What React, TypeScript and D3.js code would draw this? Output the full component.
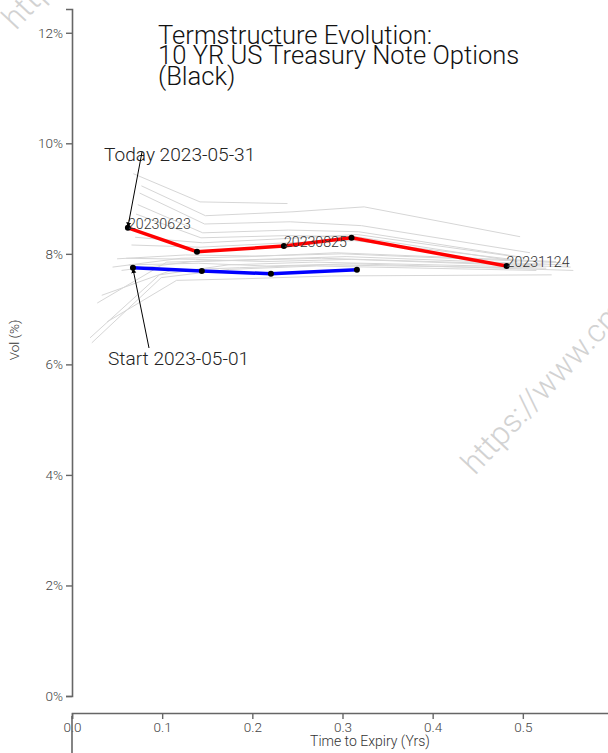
import React, { useEffect, useRef } from "react";
import * as d3 from "d3";

const X_TICKS = [0, 0.1, 0.2, 0.3, 0.4, 0.5];
const Y_TICKS = [0, 2, 4, 6, 8, 10, 12];

const TITLE_LINES = ["Termstructure Evolution:", "10 YR US Treasury Note Options", "(Black)"];

const todayT = [0.062, 0.1386, 0.235, 0.31, 0.482];
const todayVol = [8.47, 8.04, 8.14, 8.29, 7.78];
const todayLabels = ["20230623", "", "20230825", "", "20231124"];

const startT = [0.0676, 0.144, 0.2206, 0.316];
const startVol = [7.75, 7.69, 7.64, 7.71];

const historyT: number[][] = [
  [0.063, 0.14, 0.216, 0.312, 0.556],
  [0.06, 0.137, 0.214, 0.31, 0.553],
  [0.055, 0.132, 0.208, 0.304, 0.548],
  [0.05, 0.126, 0.203, 0.299, 0.542],
  [0.045, 0.121, 0.197, 0.293, 0.537],
  [0.039, 0.116, 0.192, 0.288, 0.532],
  [0.033, 0.11, 0.186, 0.282, 0.526],
  [0.028, 0.105, 0.181, 0.277, 0.521],
  [0.022, 0.099, 0.175, 0.271, 0.515],
  [0.02, 0.097, 0.173, 0.268, 0.512],
  [0.066, 0.142, 0.238, 0.313, 0.488],
  [0.07, 0.145, 0.241, 0.316, 0.491],
  [0.068, 0.142, 0.239],
  [0.077, 0.148, 0.244, 0.324, 0.497],
  [0.075, 0.147, 0.242, 0.321, 0.508],
  [0.073, 0.145, 0.24, 0.318, 0.502],
  [0.071, 0.143, 0.238, 0.315, 0.494],
];
const historyVol: number[][] = [
  [7.8, 7.83, 7.78, 7.82, 7.7],
  [7.92, 7.9, 7.86, 7.9, 7.76],
  [7.7, 7.86, 7.9, 7.95, 7.8],
  [7.91, 7.98, 7.96, 8.0, 7.84],
  [7.76, 7.92, 7.95, 8.02, 7.86],
  [6.77, 7.52, 7.55, 7.6, 7.62],
  [7.25, 7.7, 7.75, 7.8, 7.74],
  [7.11, 7.85, 7.88, 7.92, 7.8],
  [6.39, 7.57, 7.72, 7.78, 7.7],
  [6.48, 7.62, 7.8, 7.85, 7.76],
  [8.16, 8.12, 8.2, 8.24, 7.9],
  [8.3, 8.2, 8.28, 8.35, 7.95],
  [9.45, 8.94, 8.91],
  [9.23, 8.69, 8.76, 8.85, 8.31],
  [9.1, 8.54, 8.58, 8.51, 8.02],
  [8.89, 8.38, 8.43, 8.4, 7.93],
  [8.72, 8.29, 8.33, 8.31, 7.86],
];

const W = 608;
const H = 753;
const FONT = "Roboto, 'Noto Sans', sans-serif";

export default function App() {
  const xAxisRef = useRef<SVGGElement>(null);
  const yAxisRef = useRef<SVGGElement>(null);

  const x = d3.scaleLinear().domain([0, 0.6]).range([72, 613]);
  const y = d3.scaleLinear().domain([0, 12.43]).range([696, 9]);

  useEffect(() => {
    const xa = d3.select(xAxisRef.current!);
    xa.call(d3.axisBottom(x).tickValues(X_TICKS).tickFormat(d3.format(".1f")) as any);
    const ya = d3.select(yAxisRef.current!);
    ya.call(d3.axisLeft(y).tickValues(Y_TICKS).tickFormat((d: any) => `${d}%`) as any);
    [xa, ya].forEach((g) => {
      g.selectAll("path.domain").attr("stroke", "#666").attr("stroke-width", 1.6);
      g.selectAll(".tick line").attr("stroke", "#666").attr("stroke-width", 1.4);
      g.selectAll(".tick text")
        .attr("fill", "#444")
        .style("font-family", FONT)
        .style("font-weight", 300)
        .style("font-size", "13.5px");
    });
  }, []);

  const line = d3
    .line<[number, number]>()
    .x((d) => x(d[0]))
    .y((d) => y(d[1]));

  const todayPts: [number, number][] = todayT.map((t, i) => [t, todayVol[i]]);
  const startPts: [number, number][] = startT.map((t, i) => [t, startVol[i]]);

  return (
    <svg
      width={W}
      height={H}
      style={{ position: "absolute", left: 0, top: 0, background: "#fff" }}
      fontFamily={FONT}
    >
      <defs>
        <marker id="arrow" viewBox="0 0 10 10" refX="9" refY="5" markerWidth="5" markerHeight="6" orient="auto">
          <path d="M0,0 L10,5 L0,10 z" fill="#000" />
        </marker>
      </defs>

      {/* watermarks */}
      <text
        x={16}
        y={31}
        transform="rotate(-47 16 31)"
        fontSize={32}
        fontWeight={300}
        fill="#d2d2d2"
      >
        https://www.cmegroup.com
      </text>
      <text
        x={475}
        y={476}
        transform="rotate(-47 475 476)"
        fontSize={32}
        fontWeight={300}
        fill="#d2d2d2"
      >
        https://www.cmegroup.com
      </text>

      {/* title */}
      <text x={158} y={44} fontSize={25.6} fontWeight={300} fill="#111">
        {TITLE_LINES.map((l, i) => (
          <tspan key={i} x={158} y={44 + i * 20.3}>
            {l}
          </tspan>
        ))}
      </text>

      {/* history lines */}
      {historyT.map((ts, i) => (
        <path
          key={i}
          d={line(ts.map((t, j) => [t, historyVol[i][j]] as [number, number]))!}
          fill="none"
          stroke="#d6d6d6"
          strokeWidth={1}
        />
      ))}

      {/* start */}
      <path d={line(startPts)!} fill="none" stroke="#0000ff" strokeWidth={3.5} />
      {startPts.map((p, i) => (
        <circle key={i} cx={x(p[0])} cy={y(p[1])} r={3} fill="#000" />
      ))}

      {/* today */}
      <path d={line(todayPts)!} fill="none" stroke="#ff0000" strokeWidth={3.5} />
      {todayPts.map((p, i) => (
        <circle key={i} cx={x(p[0])} cy={y(p[1])} r={3} fill="#000" />
      ))}
      {todayPts.map((p, i) =>
        todayLabels[i] ? (
          <text key={i} x={x(p[0])} y={y(p[1]) + 1} fontSize={14.2} fontWeight={300} fill="#333">
            {todayLabels[i]}
          </text>
        ) : null
      )}

      {/* annotations */}
      <text x={104} y={161} fontSize={19.1} fontWeight={300} fill="#222">
        Today 2023-05-31
      </text>
      <line
        x1={142}
        y1={152}
        x2={x(todayT[0])}
        y2={y(todayVol[0]) - 1}
        stroke="#000"
        strokeWidth={1}
        markerEnd="url(#arrow)"
      />
      <text x={108} y={365} fontSize={19.1} fontWeight={300} fill="#222">
        Start 2023-05-01
      </text>
      <line
        x1={149}
        y1={348}
        x2={x(startT[0])}
        y2={y(startVol[0]) + 1}
        stroke="#000"
        strokeWidth={1}
        markerEnd="url(#arrow)"
      />

      {/* axes */}
      <g ref={yAxisRef} transform="translate(72,0)" />
      <g ref={xAxisRef} transform="translate(0,713)" />
      <line x1={72} y1={716} x2={72} y2={753} stroke="#666" strokeWidth={1.6} />

      <text x={370} y={746} textAnchor="middle" fontSize={14} fontWeight={300} fill="#333">
        Time to Expiry (Yrs)
      </text>
      <text
        transform="translate(19,340) rotate(-90)"
        textAnchor="middle"
        fontSize={13.5}
        fontWeight={300}
        fill="#333"
      >
        Vol (%)
      </text>
    </svg>
  );
}
